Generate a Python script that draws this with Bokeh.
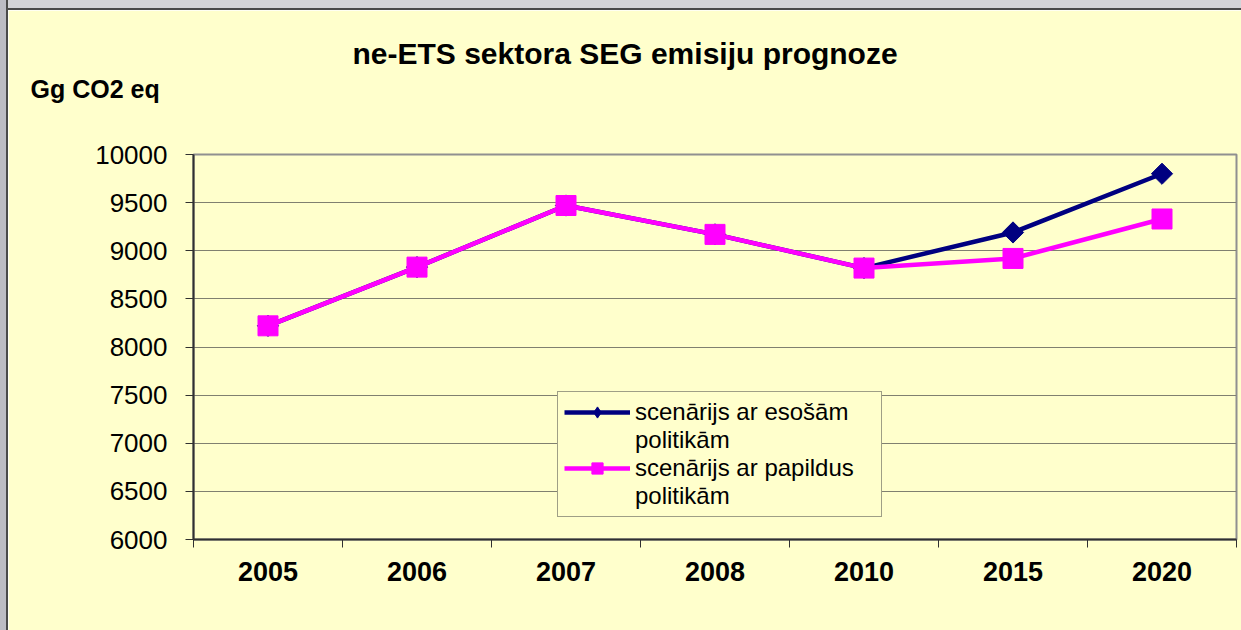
from bokeh.plotting import figure
from bokeh.models import FixedTicker, Legend, LegendItem, ColumnDataSource, Title, Spacer
from bokeh.layouts import row, column
from bokeh.embed import file_html
from bokeh.resources import INLINE
import math

years = ["2005", "2006", "2007", "2008", "2010", "2015", "2020"]
esosam = [8220, 8830, 9470, 9170, 8820, 9190, 9800]
papildus = [8220, 8830, 9470, 9170, 8820, 8920, 9330]
series_names = [["scenārijs ar esošām", "politikām"], ["scenārijs ar papildus", "politikām"]]
y_ticks = [6000, 6500, 7000, 7500, 8000, 8500, 9000, 9500, 10000]
title_text = "ne-ETS sektora SEG emisiju prognoze"
unit_text = "Gg CO2 eq"

xpos = [i + 0.5 for i in range(len(years))]
bounds = list(range(len(years) + 1))

BG = "#FFFFCC"
FONT = "Liberation Sans"
NAVY = "#000080"
PINK = "#FF00FF"

p = figure(width=1233, height=620, output_backend="svg", toolbar_location=None,
           x_range=(0, len(years)), y_range=(6000, 10000),
           background_fill_color=BG, border_fill_color=BG,
           min_border_left=185, min_border_right=5, min_border_top=144, min_border_bottom=91)
p.title_location = None
p.outline_line_color = "#909090"
p.outline_line_width = 2

src = ColumnDataSource(dict(x=xpos, a=esosam, b=papildus))

l1 = p.line("x", "a", source=src, line_color=NAVY, line_width=4.5)
lg1 = p.scatter("x", "a", source=src, marker="diamond", size=14,
                fill_color=NAVY, line_color=NAVY)
m1 = p.scatter("x", "a", source=src, marker="square", angle=math.pi / 4, size=15,
               fill_color=NAVY, line_color=NAVY)
l2 = p.line("x", "b", source=src, line_color=PINK, line_width=4.5)
m2 = p.scatter("x", "b", source=src, marker="square", size=20,
               fill_color=PINK, line_color=PINK)
# invisible renderer used only for the second text line of each legend entry
blank = p.line("x", "a", source=src, line_alpha=0)

# axes
p.xaxis.ticker = FixedTicker(ticks=xpos, minor_ticks=bounds)
p.xaxis.major_label_overrides = {x: y for x, y in zip(xpos, years)}
p.xaxis.major_tick_out = 0
p.xaxis.major_tick_in = 0
p.xaxis.minor_tick_out = 8
p.xaxis.minor_tick_in = 0
p.xaxis.minor_tick_line_color = "#303030"
p.xaxis.major_label_text_font = FONT
p.xaxis.major_label_text_font_style = "bold"
p.xaxis.major_label_text_font_size = "27px"
p.xaxis.major_label_text_color = "black"
p.xaxis.major_label_standoff = 14
p.xaxis.axis_line_color = "#303030"
p.xaxis.axis_line_width = 2

p.yaxis.ticker = FixedTicker(ticks=y_ticks)
p.yaxis.minor_tick_line_color = None
p.yaxis.major_tick_out = 8
p.yaxis.major_tick_in = 0
p.yaxis.major_tick_line_color = "#303030"
p.yaxis.major_label_text_font = FONT
p.yaxis.major_label_text_font_size = "26px"
p.yaxis.major_label_text_color = "black"
p.yaxis.major_label_standoff = 18
p.yaxis.axis_line_color = "#303030"
p.yaxis.axis_line_width = 2

p.xgrid.grid_line_color = None
p.ygrid.grid_line_color = "#808070"
p.ygrid.grid_line_width = 1

legend = Legend(items=[LegendItem(label=series_names[0][0], renderers=[l1, lg1]),
                       LegendItem(label=series_names[0][1], renderers=[blank]),
                       LegendItem(label=series_names[1][0], renderers=[l2, m2]),
                       LegendItem(label=series_names[1][1], renderers=[blank])],
                location=(364, 22))
legend.background_fill_color = BG
legend.background_fill_alpha = 1
legend.border_line_color = "#404040"
legend.border_line_width = 1
legend.label_text_font = FONT
legend.label_text_font_size = "24px"
legend.label_text_color = "black"
legend.label_height = 28
legend.label_width = 240
legend.glyph_width = 66
legend.glyph_height = 28
legend.padding = 6
legend.spacing = 0
legend.margin = 0
legend.label_standoff = 5
p.add_layout(legend)

unit_title = Title(text=unit_text, align="left", offset=-163, standoff=0,
                   padding=dict(left=0, right=0, top=0, bottom=52),
                   text_font=FONT, text_font_style="bold", text_font_size="25px",
                   text_color="black")
main_title = Title(text=title_text, align="left", offset=159, standoff=0,
                   padding=dict(left=0, right=0, top=0, bottom=3),
                   text_font=FONT, text_font_style="bold", text_font_size="30px",
                   text_color="black")
p.add_layout(unit_title, "above")
p.add_layout(main_title, "above")

# slide background strips around the chart area
left_strip = Spacer(width=8, height=630,
                    styles={"background": "linear-gradient(to right, #BCBCC4 6px, #4A4A4A 6px)"})
top_strip = Spacer(width=1233, height=10,
                   styles={"background": "linear-gradient(to bottom, #D4D4D8 8px, #4A4A4A 8px)"})
page = row(left_strip, column(top_strip, p, spacing=0), spacing=0)

open("out.html", "w").write(file_html(page, INLINE))
